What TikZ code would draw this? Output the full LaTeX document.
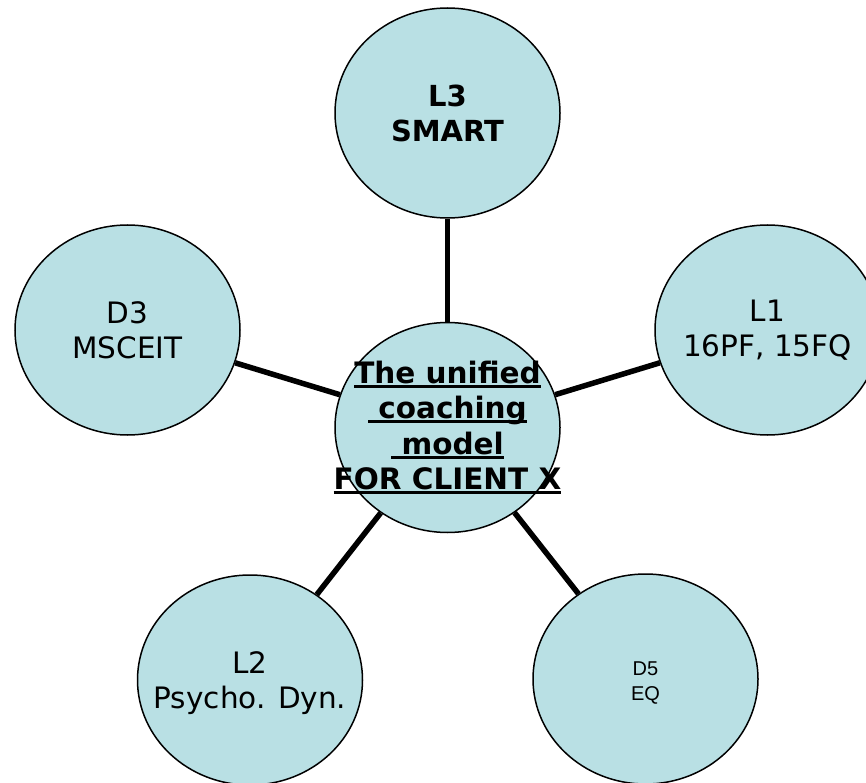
\documentclass[tikz,border=0pt]{standalone}
\usepackage{fontspec}
\setmainfont{DejaVu Sans}
\newfontfamily\arialf{Liberation Sans}
\usetikzlibrary{shapes.geometric,backgrounds}
\definecolor{bubble}{RGB}{185,224,228}
\newsavebox\ulbox
\newcommand\myul[1]{\sbox\ulbox{#1}\rlap{\rule[-4.5pt]{\wd\ulbox}{3pt}}\usebox\ulbox}
\tikzset{
  bub/.style={ellipse, draw=black, line width=1.5pt, fill=bubble,
    minimum width=225pt, minimum height=210pt, inner sep=0pt},
  txt/.style={align=center, inner sep=0pt,
    font=\fontsize{29.5pt}{35pt}\selectfont},
  spoke/.style={line width=5.5pt, draw=black}
}
\begin{document}
\begin{tikzpicture}[x=1pt,y=-1pt]
\useasboundingbox (0,0) rectangle (866,783);
\node[bub] (l3) at (447.5,113) {};
\node[bub] (d3) at (127.5,330) {};
\node[bub] (l1) at (767.5,330) {};
\node[bub] (c) at (447.5,427.5) {};
\node[bub] (l2) at (250,680) {};
\node[bub] (d5) at (645.5,679) {};
\node[txt, font=\fontsize{29pt}{35pt}\selectfont\bfseries] (l3t) at (l3.center) {L3\\SMART};
\node[txt] (d3t) at (d3.center) {D3\\MSCEIT};
\node[txt] (l1t) at (l1.center) {L1\\16PF, 15FQ};
\node[txt, font=\fontsize{29.5pt}{35.5pt}\selectfont\bfseries] (ct) at (c.center)
  {\myul{The unified}\\\myul{\ coaching}\\\myul{\ model}\\\myul{FOR CLIENT X}};
\node[txt, yshift=-3pt] (l2t) at (l2.center) {L2\\Psycho. Dyn.};
\node[txt, yshift=-4pt, font=\arialf\fontsize{20pt}{25pt}\selectfont] (d5t) at (d5.center) {D5\\EQ};
\begin{scope}[on background layer]
\draw[spoke] (c) -- (l3);
\draw[spoke] (c) -- (d3);
\draw[spoke] (c) -- (l1);
\draw[spoke] (c) -- (l2);
\draw[spoke] (c) -- (d5);
\end{scope}
\end{tikzpicture}
\end{document}
